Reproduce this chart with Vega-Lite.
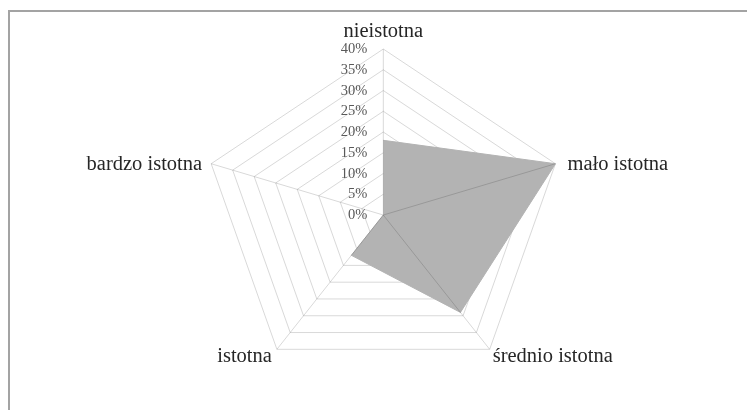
{
  "$schema": "https://vega.github.io/schema/vega-lite/v6.json",
  "width": 760,
  "height": 420,
  "autosize": "none",
  "padding": {"left": 9, "top": 11, "right": 0, "bottom": 0},
  "background": "white",
  "config": {"view": {"stroke": "#a3a3a3", "strokeWidth": 2}},
  "datasets": {
    "cats": [
      {"cat": "nieistotna", "idx": 0, "value": 18},
      {"cat": "mało istotna", "idx": 1, "value": 40},
      {"cat": "średnio istotna", "idx": 2, "value": 29},
      {"cat": "istotna", "idx": 3, "value": 12},
      {"cat": "bardzo istotna", "idx": 4, "value": 0}
    ],
    "levels": [
      {"level": 0, "label": "0%", "idx": [0, 1, 2, 3, 4, 5]},
      {"level": 5, "label": "5%", "idx": [0, 1, 2, 3, 4, 5]},
      {"level": 10, "label": "10%", "idx": [0, 1, 2, 3, 4, 5]},
      {"level": 15, "label": "15%", "idx": [0, 1, 2, 3, 4, 5]},
      {"level": 20, "label": "20%", "idx": [0, 1, 2, 3, 4, 5]},
      {"level": 25, "label": "25%", "idx": [0, 1, 2, 3, 4, 5]},
      {"level": 30, "label": "30%", "idx": [0, 1, 2, 3, 4, 5]},
      {"level": 35, "label": "35%", "idx": [0, 1, 2, 3, 4, 5]},
      {"level": 40, "label": "40%", "idx": [0, 1, 2, 3, 4, 5]}
    ]
  },
  "encoding": {
    "x": {"type": "quantitative", "scale": {"domain": [-82.72, 85.24], "zero": false, "nice": false}, "axis": null},
    "y": {"type": "quantitative", "scale": {"domain": [-52.04, 49.16], "zero": false, "nice": false}, "axis": null}
  },
  "layer": [
    {
      "data": {"name": "levels"},
      "transform": [
        {"flatten": ["idx"]},
        {"calculate": "datum.level * sin(datum.idx * 2 * PI / 5)", "as": "gx"},
        {"calculate": "datum.level * cos(datum.idx * 2 * PI / 5)", "as": "gy"}
      ],
      "mark": {"type": "line", "stroke": "#d9d9d9", "strokeWidth": 1},
      "encoding": {
        "x": {"field": "gx"},
        "y": {"field": "gy"},
        "detail": {"field": "level", "type": "nominal"},
        "order": {"field": "idx", "type": "quantitative"}
      }
    },
    {
      "data": {"name": "cats"},
      "transform": [
        {"calculate": "datum.value * sin(datum.idx * 2 * PI / 5)", "as": "px"},
        {"calculate": "datum.value * cos(datum.idx * 2 * PI / 5)", "as": "py"}
      ],
      "mark": {"type": "line", "fill": "#b3b3b3", "stroke": "#b3b3b3", "strokeWidth": 1},
      "encoding": {
        "x": {"field": "px"},
        "y": {"field": "py"},
        "order": {"field": "idx", "type": "quantitative"}
      }
    },
    {
      "data": {"name": "cats"},
      "transform": [
        {"calculate": "40 * sin(datum.idx * 2 * PI / 5)", "as": "sx"},
        {"calculate": "40 * cos(datum.idx * 2 * PI / 5)", "as": "sy"}
      ],
      "mark": {"type": "rule", "stroke": "#d9d9d9", "strokeWidth": 1, "blend": "multiply"},
      "encoding": {
        "x": {"field": "sx"},
        "y": {"field": "sy"},
        "x2": {"datum": 0},
        "y2": {"datum": 0}
      }
    },
    {
      "data": {"name": "levels"},
      "mark": {"type": "text", "align": "right", "baseline": "middle", "dx": -16, "font": "Liberation Serif", "fontSize": 14.5, "fill": "#595959"},
      "encoding": {
        "x": {"datum": 0},
        "y": {"field": "level"},
        "text": {"field": "label"}
      }
    },
    {
      "data": {"name": "cats"},
      "transform": [
        {"filter": "datum.idx == 0"},
        {"calculate": "40 * sin(datum.idx * 2 * PI / 5)", "as": "sx"},
        {"calculate": "40 * cos(datum.idx * 2 * PI / 5)", "as": "sy"}
      ],
      "mark": {"type": "text", "align": "center", "baseline": "alphabetic", "dy": -12, "font": "Liberation Serif", "fontSize": 20.5, "fill": "#262626"},
      "encoding": {"x": {"field": "sx"}, "y": {"field": "sy"}, "text": {"field": "cat"}}
    },
    {
      "data": {"name": "cats"},
      "transform": [
        {"filter": "datum.idx == 1"},
        {"calculate": "40 * sin(datum.idx * 2 * PI / 5)", "as": "sx"},
        {"calculate": "40 * cos(datum.idx * 2 * PI / 5)", "as": "sy"}
      ],
      "mark": {"type": "text", "align": "left", "baseline": "middle", "dx": 12, "font": "Liberation Serif", "fontSize": 20.5, "fill": "#262626"},
      "encoding": {"x": {"field": "sx"}, "y": {"field": "sy"}, "text": {"field": "cat"}}
    },
    {
      "data": {"name": "cats"},
      "transform": [
        {"filter": "datum.idx == 4"},
        {"calculate": "40 * sin(datum.idx * 2 * PI / 5)", "as": "sx"},
        {"calculate": "40 * cos(datum.idx * 2 * PI / 5)", "as": "sy"}
      ],
      "mark": {"type": "text", "align": "right", "baseline": "middle", "dx": -9, "font": "Liberation Serif", "fontSize": 20.5, "fill": "#262626"},
      "encoding": {"x": {"field": "sx"}, "y": {"field": "sy"}, "text": {"field": "cat"}}
    },
    {
      "data": {"name": "cats"},
      "transform": [
        {"filter": "datum.idx == 3"},
        {"calculate": "40 * sin(datum.idx * 2 * PI / 5)", "as": "sx"},
        {"calculate": "40 * cos(datum.idx * 2 * PI / 5)", "as": "sy"}
      ],
      "mark": {"type": "text", "align": "right", "baseline": "alphabetic", "dx": -5, "dy": 13, "font": "Liberation Serif", "fontSize": 20.5, "fill": "#262626"},
      "encoding": {"x": {"field": "sx"}, "y": {"field": "sy"}, "text": {"field": "cat"}}
    },
    {
      "data": {"name": "cats"},
      "transform": [
        {"filter": "datum.idx == 2"},
        {"calculate": "40 * sin(datum.idx * 2 * PI / 5)", "as": "sx"},
        {"calculate": "40 * cos(datum.idx * 2 * PI / 5)", "as": "sy"}
      ],
      "mark": {"type": "text", "align": "left", "baseline": "alphabetic", "dx": 3, "dy": 13, "font": "Liberation Serif", "fontSize": 20.5, "fill": "#262626"},
      "encoding": {"x": {"field": "sx"}, "y": {"field": "sy"}, "text": {"field": "cat"}}
    }
  ]
}
